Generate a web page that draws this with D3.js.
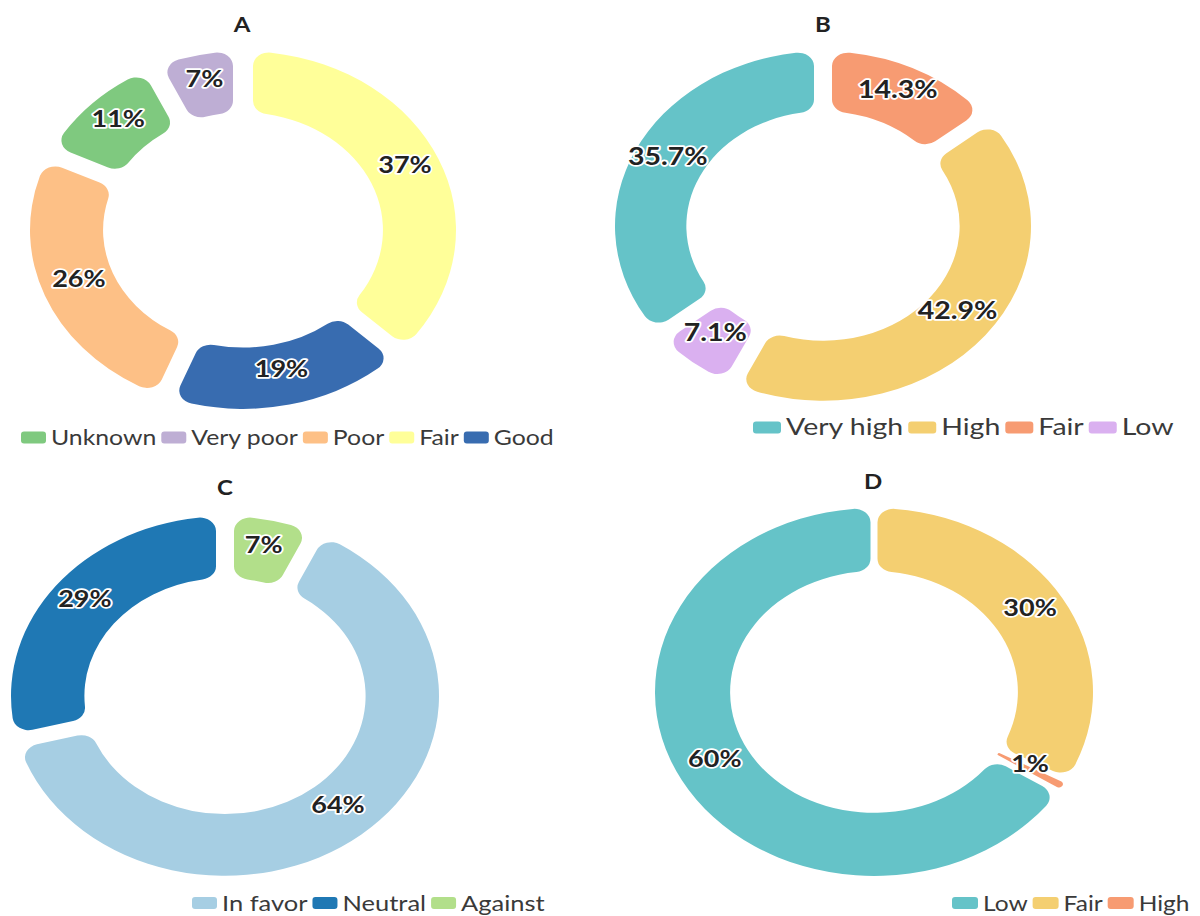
<!DOCTYPE html>
<html>
<head>
<meta charset="utf-8">
<script src="https://cdn.jsdelivr.net/npm/d3@7"></script>
<style>
  body { margin: 0; background: #fff; }
  text { font-family: Lato, "Open Sans", sans-serif; }
</style>
</head>
<body>
<div id="chart"></div>
<script>
// the source figure is squashed vertically, so every panel is drawn as circles then scaled
const KY = 0.84;

// A
const categoriesA = ['Fair', 'Good', 'Poor', 'Unknown', 'Very poor'];
const valuesA = [37, 19, 26, 11, 7];
const legendOrderA = ['Unknown', 'Very poor', 'Poor', 'Fair', 'Good'];

// B
const categoriesB = ['Fair', 'High', 'Low', 'Very high'];
const valuesB = [14.3, 42.9, 7.1, 35.7];
const legendOrderB = ['Very high', 'High', 'Fair', 'Low'];

// C
const categoriesC = ['Against', 'In favor', 'Neutral'];
const valuesC = [7, 64, 29];
const legendOrderC = ['In favor', 'Neutral', 'Against'];

// D
const categoriesD = ['Fair', 'High', 'Low'];
const valuesD = [30, 1, 60];
const legendOrderD = ['Low', 'Fair', 'High'];

const titles = ['A', 'B', 'C', 'D'];

const coloursA = {'Unknown': '#7fc97f', 'Very poor': '#beaed4', 'Poor': '#fdc086', 'Fair': '#ffff99', 'Good': '#386cb0'};
const coloursB = {'Very high': '#65c3c8', 'High': '#f4cf71', 'Fair': '#f79b72', 'Low': '#dab0f0'};
const coloursC = {'In favor': '#a6cee3', 'Neutral': '#1f78b4', 'Against': '#b2df8a'};
const coloursD = {'Low': '#65c3c8', 'Fair': '#f4cf71', 'High': '#f79b72'};

const layout = [
    {cx: 243, cy: 230, r: 213, gap: 20, titleX: 242, titleY: 32, legendX: 21, legendY: 437.5, legendSize: 24.8, legendBox: 25, labelSize: 27},
    {cx: 823, cy: 226, r: 208, gap: 18, titleX: 823, titleY: 32, legendX: 753, legendY: 427.5, legendSize: 28.5, legendBox: 28, labelSize: 28.5},
    {cx: 225, cy: 696, r: 214, gap: 18, titleX: 225, titleY: 495, legendX: 192, legendY: 903, legendSize: 25.5, legendBox: 25, labelSize: 27},
    {cx: 874, cy: 692, r: 219, gap: 7, titleX: 873, titleY: 489, legendX: 952, legendY: 903, legendSize: 24.5, legendBox: 26, labelSize: 27}
];

const svg = d3.select('#chart')
    .append('svg')
    .attr('width', 1200)
    .attr('height', 916);

const panels = [
    [categoriesA, valuesA, legendOrderA, coloursA],
    [categoriesB, valuesB, legendOrderB, coloursB],
    [categoriesC, valuesC, legendOrderC, coloursC],
    [categoriesD, valuesD, legendOrderD, coloursD]
];

panels.forEach(([cats, vals, order, colours], i) => drawDonut(titles[i], cats, vals, order, colours, layout[i]));

function drawDonut(title, cats, vals, order, colours, L) {
    const g = svg.append('g').attr('transform', `translate(${L.cx},${L.cy})`);

    const pie = d3.pie().sort(null).value(d => d.value);
    const arc = d3.arc()
        .innerRadius(L.r * 0.657)
        .outerRadius(L.r)
        .padRadius(L.r)
        .padAngle(L.gap / L.r)
        .cornerRadius(16);

    const arcs = pie(cats.map((c, i) => ({cat: c, value: vals[i]})));

    g.append('g')
        .attr('transform', `scale(1,${KY})`)
        .selectAll('path')
        .data(arcs)
        .join('path')
        .attr('d', arc)
        .attr('fill', d => colours[d.data.cat]);

    g.selectAll('text.lbl')
        .data(arcs)
        .join('text')
        .attr('class', 'lbl')
        .attr('transform', d => {
            const [x, y] = arc.centroid(d);
            return `translate(${x},${y * KY + 2}) scale(1,${KY})`;
        })
        .attr('text-anchor', 'middle')
        .style('font-size', `${L.labelSize}px`)
        .style('font-weight', 'bold')
        .style('fill', '#222')
        .style('stroke', '#fff')
        .style('stroke-width', 4)
        .style('stroke-linejoin', 'round')
        .style('paint-order', 'stroke')
        .text(d => `${d.data.value}%`);

    svg.append('text')
        .attr('transform', `translate(${L.titleX},${L.titleY}) scale(1,${KY})`)
        .attr('text-anchor', 'middle')
        .style('font-size', '24px')
        .style('font-weight', 'bold')
        .style('fill', '#222')
        .text(title);

    const legend = svg.append('g').attr('transform', `translate(${L.legendX},${L.legendY})`);
    let x = 0;
    order.forEach(cat => {
        legend.append('rect')
            .attr('x', x)
            .attr('y', -6)
            .attr('width', L.legendBox)
            .attr('height', 12)
            .attr('rx', 3)
            .attr('fill', colours[cat]);
        x += L.legendBox + 5;
        const t = legend.append('text')
            .attr('transform', `translate(${x},7.5) scale(1,${KY})`)
            .style('font-size', `${L.legendSize}px`)
            .style('fill', '#3a3a3a')
            .text(cat);
        x += t.node().getComputedTextLength() + 5;
    });
}
</script>
</body>
</html>
